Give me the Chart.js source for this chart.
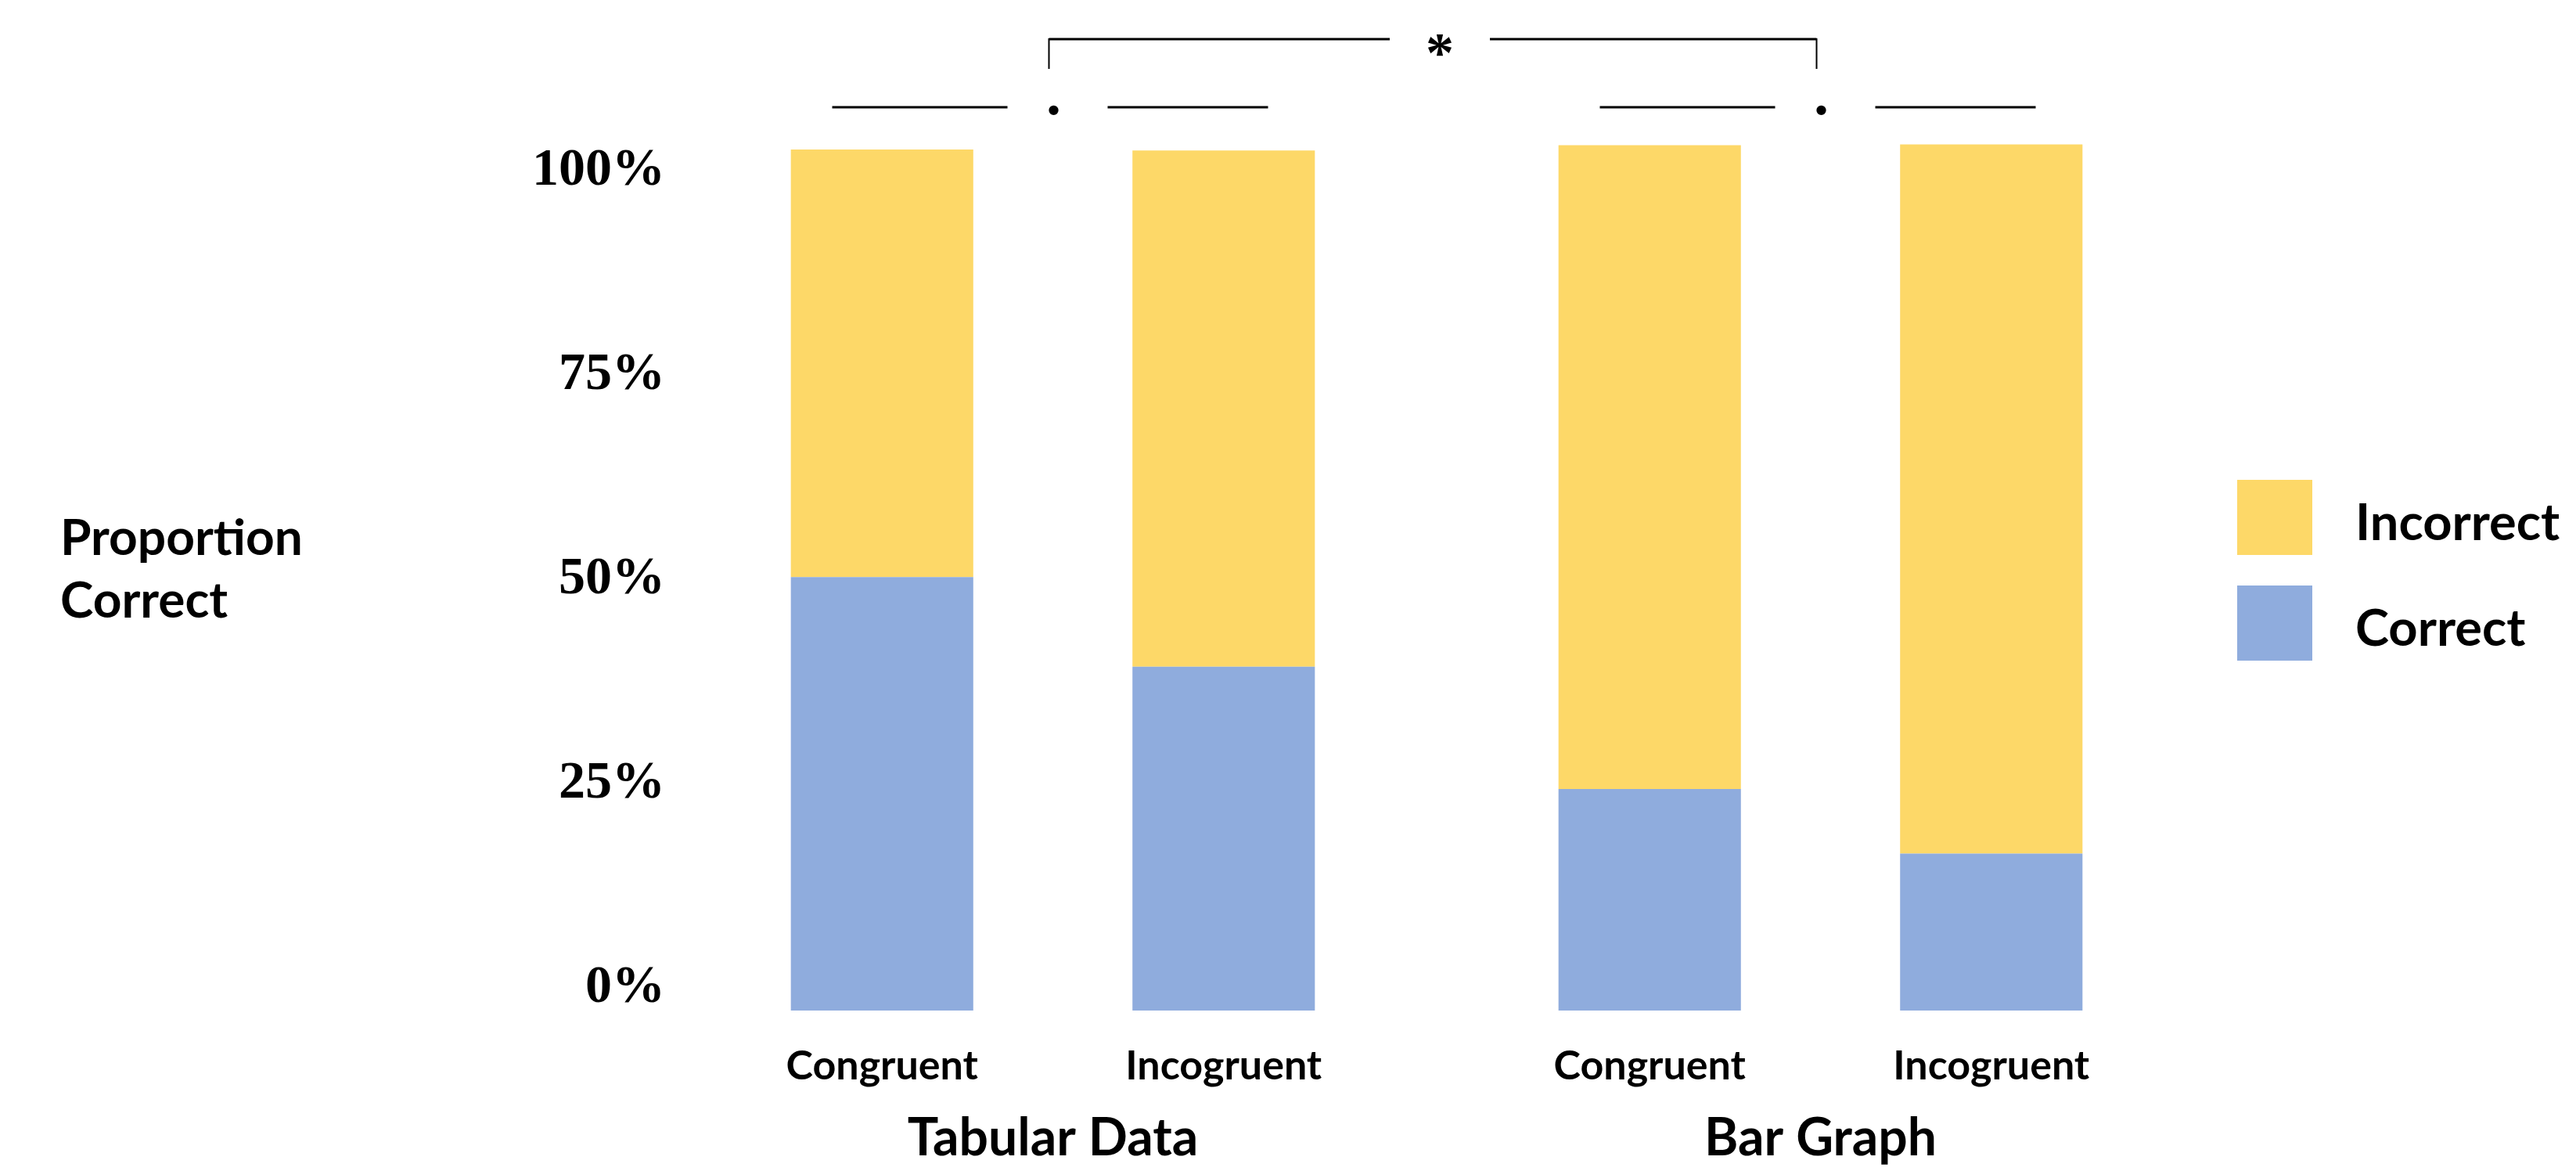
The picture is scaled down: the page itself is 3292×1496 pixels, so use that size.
<!DOCTYPE html>
<html>
<head>
<meta charset="utf-8">
<script src="https://cdn.jsdelivr.net/npm/chart.js@4.4.1/dist/chart.umd.min.js"></script>
<style>
  html, body { margin: 0; padding: 0; background: #ffffff; }
  canvas { display: block; }
</style>
</head>
<body>
<canvas id="chart" width="3292" height="1496"></canvas>
<script>
// Stimulus formats along the x axis, and the two trial conditions inside each format
const formats = ['Tabular Data', 'Bar Graph'];
const conditions = ['Congruent', 'Incogruent'];

// Share of answers (percent) for each format
const correctCongruent = [50.3, 25.7];
const incorrectCongruent = [49.6, 74.7];
const correctIncogruent = [39.9, 18.2];
const incorrectIncogruent = [59.9, 82.3];

// Left axis tick labels
const tickValues = [0, 25, 50, 75, 100];

// Legend entries, top to bottom
const outcomes = ['Incorrect', 'Correct'];

const COLORS = { Correct: '#8FACDD', Incorrect: '#FDD868' };
const LABEL_FONT = 'Lato';
const TICK_FONT = '"Liberation Serif"';

function barSet(label, data, stack) {
  return {
    label, data, stack,
    backgroundColor: COLORS[label],
    borderWidth: 0,
    categoryPercentage: 0.89,
    barPercentage: 0.534,
    clip: false,
    xAxisID: 'x',
    yAxisID: 'y'
  };
}

// Condition names under each bar, significance marks above, axis caption and legend
const decorations = {
  id: 'decorations',
  afterDraw(chart) {
    const { ctx, chartArea, scales } = chart;
    const top = chartArea.top;
    ctx.save();
    ctx.fillStyle = '#000';

    // condition label under every stacked bar
    ctx.font = `bold 52px ${LABEL_FONT}`;
    ctx.textAlign = 'center';
    ctx.textBaseline = 'alphabetic';
    chart.data.datasets.forEach((ds, di) => {
      if (ds.label !== 'Correct') return;
      chart.getDatasetMeta(di).data.forEach(bar => {
        ctx.fillText(ds.stack, bar.x, chartArea.bottom + 88);
      });
    });

    // within-format comparison: line . line
    ctx.strokeStyle = '#000';
    ctx.lineWidth = 3;
    const lineY = top - 53;
    const centers = formats.map((_, i) => scales.x.getPixelForValue(i));
    centers.forEach(gc => {
      ctx.beginPath();
      ctx.moveTo(gc - 282, lineY); ctx.lineTo(gc - 58, lineY);
      ctx.moveTo(gc + 70, lineY); ctx.lineTo(gc + 275, lineY);
      ctx.stroke();
      ctx.font = `bold 76px ${TICK_FONT}`;
      ctx.fillText('.', gc + 1, lineY + 9);
    });

    // between-format bracket with a star
    const braceY = top - 140;
    const left = centers[0] - 5, right = centers[1] - 5;
    const mid = (centers[0] + centers[1]) / 2;
    ctx.beginPath();
    ctx.moveTo(left, braceY); ctx.lineTo(mid - 60, braceY);
    ctx.moveTo(mid + 68, braceY); ctx.lineTo(right, braceY);
    ctx.stroke();
    ctx.lineWidth = 2;
    ctx.beginPath();
    ctx.moveTo(left, braceY - 1); ctx.lineTo(left, braceY + 38);
    ctx.moveTo(right, braceY - 1); ctx.lineTo(right, braceY + 38);
    ctx.stroke();
    ctx.font = `bold 72px ${TICK_FONT}`;
    ctx.fillText('*', mid + 4, braceY + 41);

    // horizontal y-axis caption
    ctx.textAlign = 'left';
    ctx.font = `bold 64px ${LABEL_FONT}`;
    ctx.fillText('Proportion', 77, 709);
    ctx.fillText('Correct', 77, 789);

    // legend
    const boxX = chartArea.right + 42;
    ctx.font = `bold 65px ${LABEL_FONT}`;
    outcomes.forEach((name, i) => {
      const boxY = 613 + i * 135;
      ctx.fillStyle = COLORS[name];
      ctx.fillRect(boxX, boxY, 96, 96);
      ctx.fillStyle = '#000';
      ctx.fillText(name, boxX + 151, boxY + 77);
    });
    ctx.restore();
  }
};

function draw() {
  new Chart(document.getElementById('chart'), {
    type: 'bar',
    data: {
      labels: formats,
      datasets: [
        barSet('Correct', correctCongruent, conditions[0]),
        barSet('Incorrect', incorrectCongruent, conditions[0]),
        barSet('Correct', correctIncogruent, conditions[1]),
        barSet('Incorrect', incorrectIncogruent, conditions[1])
      ]
    },
    options: {
      responsive: false,
      animation: false,
      devicePixelRatio: 1,
      layout: { padding: { top: 190, right: 475, bottom: 0, left: 0 } },
      plugins: {
        legend: { display: false },
        tooltip: { enabled: false },
        title: { display: false }
      },
      scales: {
        x: {
          stacked: true,
          offset: true,
          grid: { display: false, drawTicks: false },
          border: { display: false },
          ticks: {
            color: '#000',
            padding: 124,
            maxRotation: 0,
            autoSkip: false,
            font: { family: LABEL_FONT, weight: 'bold', size: 66 }
          },
          afterFit(scale) { scale.height = 205; }
        },
        y: {
          display: false,
          stacked: true,
          min: 0,
          max: 100
        },
        yt: {
          position: 'left',
          bounds: 'data',
          min: -2.77,
          max: 102.68,
          grid: { display: false, drawTicks: false },
          border: { display: false },
          afterBuildTicks(scale) {
            scale.ticks = tickValues.map(v => ({ value: v }));
          },
          ticks: {
            color: '#000',
            padding: 5,
            callback: v => v + '%',
            font: { family: TICK_FONT, weight: 'bold', size: 68 }
          },
          afterFit(scale) { scale.width = 855; }
        }
      }
    },
    plugins: [decorations]
  });
}

const fontLoads = [
  document.fonts.load(`bold 64px ${LABEL_FONT}`),
  document.fonts.load(`bold 68px ${TICK_FONT}`)
];
Promise.all(fontLoads).then(draw, draw);
</script>
</body>
</html>
